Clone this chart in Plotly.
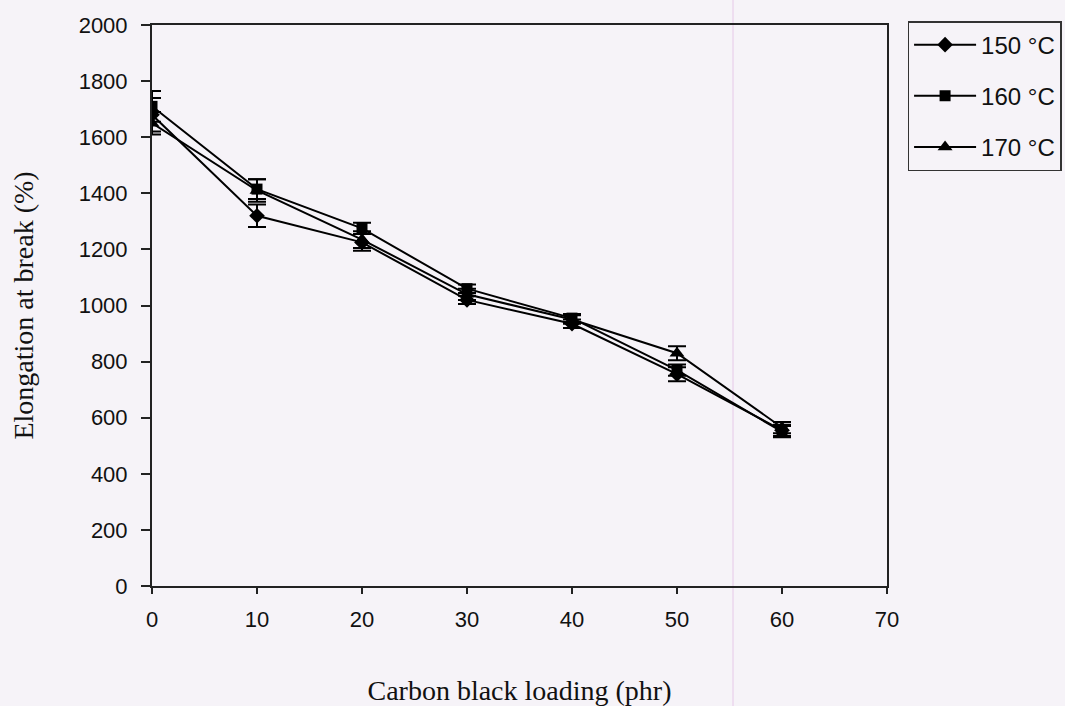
import plotly.graph_objects as go

loading = [0, 10, 20, 30, 40, 50, 60]
names = ["150 °C", "160 °C", "170 °C"]
elong_150 = [1680, 1320, 1225, 1020, 935, 755, 555]
elong_160 = [1710, 1415, 1275, 1060, 955, 770, 550]
elong_170 = [1650, 1410, 1235, 1040, 950, 830, 565]
err_150 = [60, 40, 30, 15, 15, 25, 20]
err_160 = [55, 35, 20, 15, 15, 20, 20]
err_170 = [40, 40, 30, 20, 15, 25, 20]
symbols = ["diamond", "square", "triangle-up"]
sizes = [12, 11, 13]

series = [elong_150, elong_160, elong_170]
errors = [err_150, err_160, err_170]

fig = go.Figure()
for nm, ys, es, sym, sz in zip(names, series, errors, symbols, sizes):
    fig.add_trace(go.Scatter(
        x=loading, y=ys, name=nm, mode="lines+markers",
        legendgroup=nm,
        line=dict(color="black", width=2),
        marker=dict(symbol=sym, size=sz, color="black"),
        error_y=dict(type="data", array=es, visible=True, color="black",
                     thickness=2, width=9),
    ))

font_sans = "Liberation Sans, Arial, sans-serif"
font_serif = "Liberation Serif, Times New Roman, serif"
bg = "#f6f3f8"

fig.update_layout(
    width=1065, height=706,
    margin=dict(l=152, r=178, t=25, b=120, autoexpand=False),
    paper_bgcolor=bg, plot_bgcolor=bg,
    showlegend=True,
    legend=dict(
        x=1.028, y=1.007, xanchor="left", yanchor="top",
        bgcolor=bg, bordercolor="#333333", borderwidth=1.5,
        font=dict(family=font_sans, size=24, color="#111111"),
        tracegroupgap=17, itemwidth=62,
    ),
    xaxis=dict(
        range=[0, 70], tickvals=[0, 10, 20, 30, 40, 50, 60, 70],
        showgrid=False, zeroline=False,
        showline=True, linecolor="#222222", linewidth=2, mirror=True,
        ticks="outside", ticklen=6, tickwidth=1.5, tickcolor="#222222",
        ticklabelstandoff=7,
        tickfont=dict(family=font_sans, size=22, color="#111111"),
        title=dict(text="Carbon black loading (phr)", standoff=51,
                   font=dict(family=font_serif, size=28, color="#111111")),
    ),
    yaxis=dict(
        range=[0, 2000], tickvals=list(range(0, 2001, 200)),
        showgrid=False, zeroline=False,
        showline=True, linecolor="#222222", linewidth=2, mirror=True,
        ticks="outside", ticklen=9, tickwidth=1.5, tickcolor="#222222",
        ticklabelstandoff=9,
        tickfont=dict(family=font_sans, size=22, color="#111111"),
        title=dict(text="Elongation at break (%)", standoff=37,
                   font=dict(family=font_serif, size=28, color="#111111")),
    ),
)

# faint scanning artefact line
fig.add_shape(type="line", xref="paper", yref="paper",
              x0=(733 - 152) / 735, x1=(733 - 152) / 735, y0=-120 / 561, y1=1 + 25 / 561,
              line=dict(color="#e6c8e8", width=1), layer="below")

fig.write_html("out.html")
